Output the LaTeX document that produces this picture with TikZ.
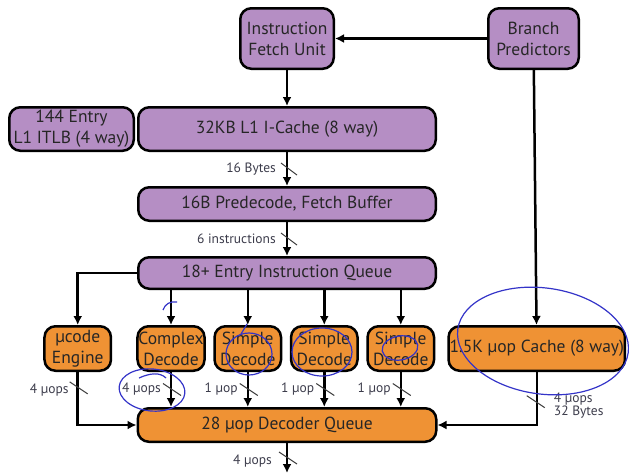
\documentclass[tikz,border=0pt]{standalone}
\usepackage{fontspec}
\setmainfont{PT Sans}
\usetikzlibrary{arrows.meta,positioning}
\definecolor{boxpurple}{RGB}{181,142,196}
\definecolor{boxorange}{RGB}{239,146,52}
\definecolor{lbltext}{RGB}{60,60,75}
\definecolor{penblue}{RGB}{52,52,200}

\begin{document}
\begin{tikzpicture}[
    x=1pt,y=1pt,
    node distance=34pt,
    >={Latex[length=9pt,width=9pt]},
    stage/.style={
      rectangle,rounded corners=11pt,draw=black,line width=2.5pt,
      align=center,font=\fontsize{17.5}{21}\selectfont,text=black!85,inner sep=1pt
    },
    purplebox/.style={stage,fill=boxpurple},
    orangebox/.style={stage,fill=boxorange,minimum width=66.5,minimum height=44.5},
    flow/.style={->,line width=2.5pt},
    tick/.style={line width=1pt,draw=black!75},
    lbl/.style={font=\fontsize{13.5}{16}\selectfont,text=lbltext,inner sep=1pt},
    pen/.style={draw=penblue,line width=1.2pt}
  ]
    \useasboundingbox (0,0) rectangle (629,-474);

    % front end
    \node[purplebox,minimum width=93.5,minimum height=60.5] (ifu) at (287,-38.5) {Instruction\\Fetch Unit};
    \node[purplebox,minimum width=90.5,minimum height=60.5] (bp) at (533.5,-38.5) {Branch\\Predictors};
    \node[purplebox,below=36pt of ifu,minimum width=297.5,minimum height=43.5] (icache) {32KB L1 I-Cache (8 way)};
    \node[purplebox,left=2pt of icache,minimum width=124.5,minimum height=43.5] (itlb) {144 Entry\\L1 ITLB (4 way)};
    \node[purplebox,below=of icache,minimum width=297.5,minimum height=33.5] (predec) {16B Predecode, Fetch Buffer};
    \node[purplebox,below=of predec,minimum width=297.5,minimum height=31.5] (iq) {18+ Entry Instruction Queue};

    % decoders
    \node[orangebox] (cplx) at (171,-348.5) {Complex\\Decode};
    \node[orangebox,left=24pt of cplx] (ucode) {µcode\\Engine};
    \node[orangebox,right=7.5pt of cplx] (simp1) {Simple\\Decode};
    \node[orangebox,right=7.5pt of simp1] (simp2) {Simple\\Decode};
    \node[orangebox,right=7.5pt of simp2] (simp3) {Simple\\Decode};
    \node[orangebox,right=12pt of simp3,minimum width=171] (uopc) {1.5K µop Cache (8 way)};
    \node[orangebox,minimum width=298.5,minimum height=33.5,anchor=north] (dq) at ([yshift=-35pt]cplx.south -| iq) {28 µop Decoder Queue};
    \coordinate[below=30pt of dq] (out);

    \draw[flow] (bp) -- (ifu);
    \draw[flow] (ifu) -- (icache);
    \draw[flow] (icache) -- coordinate (bw1) (predec);
    \draw[flow] (predec) -- coordinate (bw2) (iq);
    \draw[flow] (iq.west) -| (ucode);
    \foreach \d in {cplx,simp1,simp2,simp3}
      \draw[flow] (\d |- iq.south) -- (\d);
    \draw[flow] (bp) -- (uopc);
    \draw[flow] (ucode) |- coordinate[pos=0.15] (bw3) (dq);
    \draw[flow] (uopc) |- coordinate[pos=0.28] (bw4) (dq);
    \draw[flow] (dq) -- coordinate (bw5) (out);

    % bus widths
    \draw[tick] ([shift={(-6,6)}]bw1) -- ([shift={(10,-6)}]bw1);
    \node[lbl,anchor=east] at ([xshift=-10pt]bw1) {16 Bytes};
    \draw[tick] ([shift={(-6,6)}]bw2) -- ([shift={(10,-6)}]bw2);
    \node[lbl,anchor=east] at ([xshift=-10pt]bw2) {6 instructions};
    \draw[tick] ([shift={(-8,6)}]bw3) -- ([shift={(10,-6)}]bw3);
    \node[lbl,anchor=east] at ([xshift=-8pt,yshift=-2pt]bw3) {4 µops};
    \foreach \d/\w in {cplx/4 µops,simp1/1 µop,simp2/1 µop,simp3/1 µop}{
      \draw[flow] (\d) -- coordinate (bw-\d) (\d |- dq.north);
      \draw[tick] ([shift={(-8,6)}]bw-\d) -- ([shift={(10,-6)}]bw-\d);
      \node[lbl,anchor=east] at ([xshift=-9pt]bw-\d) {\w};
    }
    \draw[tick] ([shift={(-10,6)}]bw4) -- ([shift={(8,-6)}]bw4);
    \node[lbl,anchor=west,align=left] at ([shift={(16,-4)}]bw4) {4 µops\\[-3pt]32 Bytes};
    \draw[tick] ([shift={(-8,6)}]bw5) -- ([shift={(10,-6)}]bw5);
    \node[lbl,anchor=east] at ([xshift=-14pt,yshift=-3pt]bw5) {4 µops};

    % pen marks
    \draw[pen] (163,-310) .. controls (165,-304) and (170,-301) .. (177,-302);
    \draw[pen,rotate around={-6:(152,-390)}] (152,-390) ellipse [x radius=33pt,y radius=21pt];
    \draw[pen] (139,-378) .. controls (150,-373) and (160,-372) .. (166,-378);
    \draw[pen] (249,-354) ellipse [x radius=23pt,y radius=21pt];
    \draw[pen] (241,-334) -- (247,-324);
    \draw[pen] (322,-352) ellipse [x radius=30pt,y radius=24pt];
    \draw[pen,rotate around={10:(400,-348)}] (400,-348) ellipse [x radius=18pt,y radius=12pt];
    \draw[pen,rotate around={-8:(543,-341)}] (543,-341) ellipse [x radius=86pt,y radius=53pt];
  \end{tikzpicture}
\end{document}
